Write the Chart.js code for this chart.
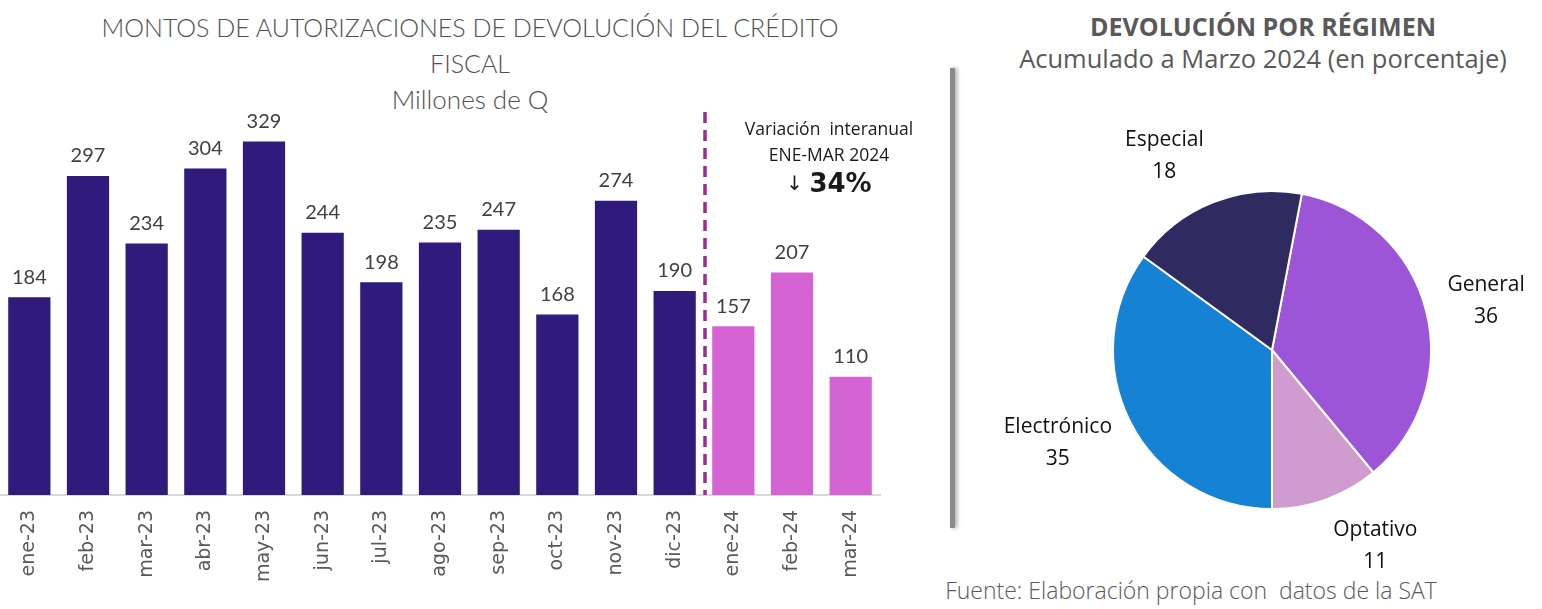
<!DOCTYPE html>
<html><head><meta charset="utf-8">
<script src="https://cdn.jsdelivr.net/npm/chart.js@4/dist/chart.umd.min.js"></script>
<style>
html,body{margin:0;padding:0;background:#fff;width:1542px;height:609px;overflow:hidden;position:relative;font-family:Lato,"Open Sans",sans-serif;}
.t{position:absolute;white-space:nowrap;color:#595959;transform:translateX(-50%);}
#sep{position:absolute;left:950px;top:68px;width:5px;height:460px;background:#8a8a8a;box-shadow:2px 0 4px rgba(0,0,0,0.35);}
</style></head><body>
<div class="t" style="left:470px;top:12px;font-size:25px;font-weight:300;color:#505050;">MONTOS DE AUTORIZACIONES DE DEVOLUCIÓN DEL CRÉDITO</div>
<div class="t" style="left:470px;top:48px;font-size:25px;font-weight:300;color:#505050;">FISCAL</div>
<div class="t" style="left:470px;top:83px;font-size:26px;font-weight:300;color:#505050;">Millones de Q</div>
<div class="t" style="left:1263px;top:9px;font-size:25px;font-weight:700;font-family:'Open Sans',sans-serif;">DEVOLUCIÓN POR RÉGIMEN</div>
<div class="t" style="left:1263px;top:41px;font-size:25.5px;font-family:'Open Sans',sans-serif;">Acumulado a Marzo 2024 (en porcentaje)</div>
<div class="t" style="left:1191px;top:574px;font-size:23px;font-weight:300;font-family:'Open Sans',sans-serif;">Fuente: Elaboración propia con&nbsp; datos de la SAT</div>
<div id="sep"></div>
<canvas id="bar" width="940" height="609" style="position:absolute;left:0;top:0;"></canvas>
<canvas id="pie" width="582" height="609" style="position:absolute;left:960px;top:0;"></canvas>
<script>
const months = ['ene-23','feb-23','mar-23','abr-23','may-23','jun-23','jul-23','ago-23','sep-23','oct-23','nov-23','dic-23','ene-24','feb-24','mar-24'];
const montos = [184,297,234,304,329,244,198,235,247,168,274,190,157,207,110];
const years = ['2023','2023','2023','2023','2023','2023','2023','2023','2023','2023','2023','2023','2024','2024','2024'];
const regimenes = ['General','Optativo','Electrónico','Especial'];
const porcentajes = [36,11,35,18];
const variacionTexto = ['Variación  interanual','ENE-MAR 2024'];
const variacionValor = '34%';

const yearColor = {'2023':'#2f1b7b','2024':'#d563d3'};
const pieColors = ['#9b55d6','#d09bce','#1682d4','#2f2a5f'];

const barPlugin = {
  id:'barDeco',
  afterDatasetsDraw(chart){
    const ctx = chart.ctx;
    const meta = chart.getDatasetMeta(0);
    ctx.save();
    ctx.font = '20px Lato, sans-serif';
    ctx.fillStyle = '#404040';
    ctx.textAlign = 'center';
    ctx.textBaseline = 'bottom';
    meta.data.forEach((b,i)=>{ ctx.fillText(String(montos[i]), b.x, b.y - 10); });
    const xs = chart.scales.x;
    const sx = xs.getPixelForValue(11.5) + 1;
    ctx.strokeStyle = '#9b2c96';
    ctx.lineWidth = 3.5;
    ctx.setLineDash([11,7]);
    ctx.beginPath();
    ctx.moveTo(sx, 112);
    ctx.lineTo(sx, chart.chartArea.bottom);
    ctx.stroke();
    ctx.setLineDash([]);
    const ax = 829;
    ctx.fillStyle = '#1a1a1a';
    ctx.textBaseline = 'middle';
    ctx.font = '17.5px "Open Sans", sans-serif';
    ctx.fillText(variacionTexto[0], ax, 130);
    ctx.fillText(variacionTexto[1], ax, 156);
    ctx.font = 'bold 26px "DejaVu Sans", sans-serif';
    const w2 = ctx.measureText(variacionValor).width;
    ctx.font = '20px "DejaVu Sans", sans-serif';
    const w1 = ctx.measureText('↓ ').width;
    const startX = ax - (w1 + w2)/2;
    ctx.textAlign = 'left';
    ctx.fillText('↓ ', startX, 185);
    ctx.font = 'bold 26px "DejaVu Sans", sans-serif';
    ctx.fillText(variacionValor, startX + w1, 185);
    ctx.restore();
  }
};

new Chart(document.getElementById('bar'), {
  type:'bar',
  data:{ labels: months, datasets:[{ data: montos, backgroundColor: years.map(y=>yearColor[y]), barPercentage:0.72, categoryPercentage:1 }]},
  options:{
    responsive:false, devicePixelRatio:1, animation:false,
    layout:{ padding:{ top:119, left:0, right:60, bottom:0 } },
    plugins:{ legend:{display:false}, tooltip:{enabled:false} },
    scales:{
      y:{ display:false, min:0, max:350 },
      x:{
        grid:{ display:false, drawTicks:false },
        border:{ display:true, color:'#d9d9d9', width:2 },
        ticks:{ minRotation:90, maxRotation:90, padding:15, color:'#595959', font:{ family:'"DejaVu Sans"', size:19 } },
        afterFit(s){ s.height = 114; }
      }
    }
  },
  plugins:[barPlugin]
});

const pieLabelPlugin = {
  id:'pieLabels',
  afterDatasetsDraw(chart){
    const ctx = chart.ctx;
    const meta = chart.getDatasetMeta(0);
    ctx.save();
    ctx.font = '21px "Open Sans", sans-serif';
    ctx.fillStyle = '#111';
    ctx.textAlign = 'center';
    ctx.textBaseline = 'middle';
    const lh = 32;
    meta.data.forEach((arc,i)=>{
      const mid = (arc.startAngle + arc.endAngle)/2;
      const ux = Math.cos(mid), uy = Math.sin(mid);
      const R = arc.outerRadius + 22;
      const px = arc.x + ux*R, py = arc.y + uy*R;
      const w = Math.max(ctx.measureText(regimenes[i]).width, ctx.measureText(String(porcentajes[i])).width);
      const h = lh*2;
      const push = 42*(1-Math.abs(ux))*Math.sign(ux);
      const cx = px + ux*w/2 + push, cy = py + uy*h/2 - 4*Math.sign(uy);
      ctx.fillText(regimenes[i], cx, cy - lh/2);
      ctx.fillText(String(porcentajes[i]), cx, cy + lh/2);
    });
    ctx.restore();
  }
};

new Chart(document.getElementById('pie'), {
  type:'pie',
  data:{ labels: regimenes, datasets:[{ data: porcentajes, backgroundColor: pieColors, borderColor:'#ffffff', borderWidth:2, hoverOffset:0 }]},
  options:{
    responsive:false, devicePixelRatio:1, animation:false,
    rotation: 10.8,
    layout:{ padding:{ left:152, right:110, top:190, bottom:99 } },
    plugins:{ legend:{display:false}, tooltip:{enabled:false} }
  },
  plugins:[pieLabelPlugin]
});
</script>
</body></html>
